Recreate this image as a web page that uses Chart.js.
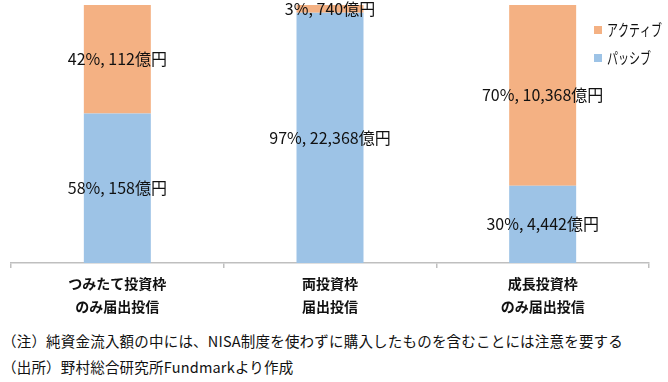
<!DOCTYPE html>
<html><head><meta charset="utf-8">
<script src="https://cdn.jsdelivr.net/npm/chart.js@4/dist/chart.umd.min.js"></script>
<style>
html,body{margin:0;padding:0;background:#fff;}
#wrap{position:relative;width:668px;height:382px;overflow:hidden;}
#c{position:absolute;left:0;top:0;}
.note{position:absolute;left:2px;font-family:"Noto Sans CJK JP",sans-serif;font-size:14.5px;letter-spacing:0.2px;color:#111;white-space:nowrap;}
</style></head>
<body><div id="wrap"><canvas id="c" width="668" height="322"></canvas>
<div class="note" id="n1" style="top:330px">（注）純資金流入額の中には、NISA制度を使わずに購入したものを含むことには注意を要する</div>
<div class="note" id="n2" style="top:356px">（出所）野村総合研究所Fundmarkより作成</div>
</div>
<script>
const categories = [["つみたて投資枠","のみ届出投信"],["両投資枠","届出投信"],["成長投資枠","のみ届出投信"]];
const seriesNames = ["パッシブ","アクティブ"];
const passivePct = [58, 97, 30];
const activePct = [42, 3, 70];
const passiveAmt = ["158","22,368","4,442"];
const activeAmt = ["112","740","10,368"];
const colors = ["#9DC3E6","#F4B183"];
const FONT = '"Noto Sans CJK JP", sans-serif';

const labelPlugin = {
  id:'segLabels',
  afterDatasetsDraw(chart){
    const ctx = chart.ctx;
    ctx.save();
    ctx.font = '16px ' + FONT;
    ctx.fillStyle = '#111';
    ctx.textAlign = 'center';
    ctx.textBaseline = 'middle';
    const amts = [passiveAmt, activeAmt];
    chart.data.datasets.forEach((ds, di) => {
      const meta = chart.getDatasetMeta(di);
      meta.data.forEach((el, i) => {
        const y = (el.y + el.base) / 2;
        ctx.fillText(ds.data[i] + '%, ' + amts[di][i] + '億円', el.x, y);
      });
    });
    ctx.restore();
  }
};
const legendPlugin = {
  id:'customLegend',
  afterDraw(chart){
    const ctx = chart.ctx;
    ctx.save();
    ctx.font = '15.5px ' + FONT;
    ctx.textBaseline = 'middle';
    ctx.textAlign = 'left';
    const items = [1, 0];
    items.forEach((di, k) => {
      const y = 30 + k * 28;
      ctx.fillStyle = chart.data.datasets[di].backgroundColor;
      ctx.fillRect(594, y - 4, 8, 8);
      ctx.fillStyle = '#111';
      ctx.save();
      ctx.translate(607, y);
      ctx.scale(0.71, 1);
      ctx.fillText(chart.data.datasets[di].label, 0, 0);
      ctx.restore();
    });
    ctx.restore();
  }
};

new Chart(document.getElementById('c'), {
  type:'bar',
  data:{
    labels: categories,
    datasets:[
      {label:seriesNames[0], data:passivePct, backgroundColor:colors[0], barPercentage:0.315, categoryPercentage:1},
      {label:seriesNames[1], data:activePct, backgroundColor:colors[1], barPercentage:0.315, categoryPercentage:1}
    ]
  },
  options:{
    responsive:false,
    animation:false,
    events:[],
    layout:{padding:{left:11,right:19,top:5,bottom:0}},
    plugins:{legend:{display:false}, tooltip:{enabled:false}},
    scales:{
      x:{stacked:true,
        grid:{offset:true, drawOnChartArea:false, tickLength:5, color:'#BFBFBF', lineWidth:1.5},
        border:{color:'#BFBFBF', width:1.5},
        ticks:{font:{family:FONT, size:14, weight:'bold', lineHeight:1.64}, color:'#111', padding:4, maxRotation:0}
      },
      y:{stacked:true, min:0, max:100, display:false}
    }
  },
  plugins:[labelPlugin, legendPlugin]
});
</script></body></html>
